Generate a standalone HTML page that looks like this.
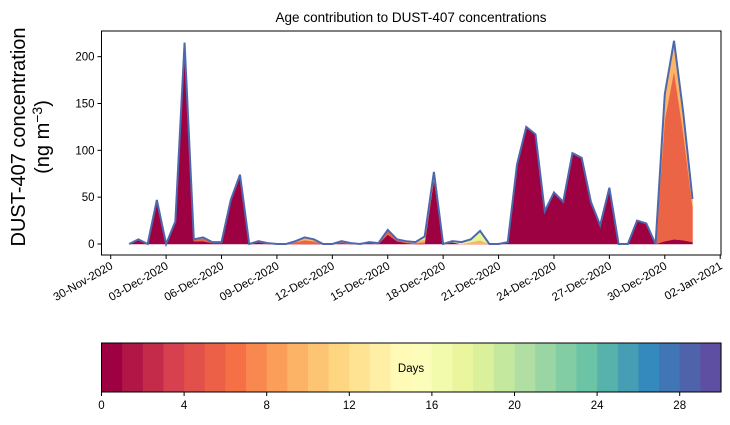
<!DOCTYPE html>
<html><head><meta charset="utf-8"><style>
body{margin:0;background:#fff;}
svg{display:block;font-family:"Liberation Sans","DejaVu Sans",sans-serif;}
</style></head><body>
<svg id="chart" width="730" height="425" viewBox="0 0 730 425">
<g id="plot"></g>
<g id="axes"></g>
<g id="cbar"></g>
</svg>
<script>
// data: 12-hourly from 01-Dec-2020 00:00
const startDay = 1; // days after 30-Nov-2020
const fresh = [0,4,0,45,0,23,212,3,3,1,1,46,73,0,2,0,0,0,0,0,0,0,0,1,0,0,1,0,10,3,1,0,0,70,0,2,0,0,0,0,0,2,85,125,117,35,55,45,97,92,45,20,60,0,0,25,22,0,3,5,4,2];
const aged4 = [0,1,0,2,0,1,3,2,3,1,1,1,1,0,1,1,0,0,2,4,3,0,0,2,1,0,1,1,5,2,1,1,2,0,0,0,0,0,0,0,0,0,0,0,0,0,0,0,0,0,0,0,0,0,0,0,0,0,130,180,115,38];
const aged10 = [0,0,0,0,0,0,0,0,1,0,0,0,0,0,0,0,0,0,1,3,2,0,0,0,0,0,0,0,0,0,1,1,3,5,0,0,0,2,4,0,0,0,0,0,0,0,0,0,0,0,0,0,0,0,0,0,0,0,27,32,21,8];
const aged17 = [0,0,0,0,0,0,0,0,0,0,0,0,0,0,0,0,0,0,0,0,0,0,0,0,0,0,0,0,0,0,0,0,3,2,0,1,2,3,10,0,0,0,0,0,0,0,0,0,0,0,0,0,0,0,0,0,0,0,0,0,0,0];
const yTicks = [0,50,100,150,200];
const xTickLabels = ["30-Nov-2020","03-Dec-2020","06-Dec-2020","09-Dec-2020","12-Dec-2020","15-Dec-2020","18-Dec-2020","21-Dec-2020","24-Dec-2020","27-Dec-2020","30-Dec-2020","02-Jan-2021"];
const xTickDays = [0,3,6,9,12,15,18,21,24,27,30,33];
const cbarTicks = [0,4,8,12,16,20,24,28];

const NS="http://www.w3.org/2000/svg";
const L=101.5,R=721,T=31,B=255;
const X0=110.7,PX_DAY=(720.2-110.7)/33;
const xs=d=>X0+d*PX_DAY;
const ys=v=>244-v*0.9367;
function mk(tag,attrs,parent){const e=document.createElementNS(NS,tag);for(const k in attrs)e.setAttribute(k,attrs[k]);parent.appendChild(e);return e;}
const plot=document.getElementById('plot'),axes=document.getElementById('axes'),cbar=document.getElementById('cbar');

const layers=[{d:fresh,c:'#9e0142',n:'area-age-0-1-days'},{d:aged4,c:'#ec6446',n:'area-age-4-days'},{d:aged10,c:'#fdb466',n:'area-age-10-days'},{d:aged17,c:'#e6f598',n:'area-age-17-days'}];
const n=fresh.length;
let base=new Array(n).fill(0);
const xd=i=>startDay+i*0.5;
layers.forEach(ly=>{
  const top=base.map((b,i)=>b+ly.d[i]);
  let p=[];
  for(let i=0;i<n;i++)p.push(xs(xd(i)).toFixed(2)+','+ys(top[i]).toFixed(2));
  for(let i=n-1;i>=0;i--)p.push(xs(xd(i)).toFixed(2)+','+ys(base[i]).toFixed(2));
  const e=mk('polygon',{points:p.join(' '),fill:ly.c,stroke:ly.c,'stroke-width':0.5},plot);
  
  
  base=top;
});
{
  let p=[];for(let i=0;i<n;i++)p.push(xs(xd(i)).toFixed(2)+','+ys(base[i]).toFixed(2));
  const e=mk('polyline',{points:p.join(' '),fill:'none',stroke:'#4e68ad','stroke-width':2,'stroke-linejoin':'miter'},plot);
  
  
}
// frame
{const e=mk('rect',{x:L,y:T,width:R-L,height:B-T,fill:'none',stroke:'#000','stroke-width':1},axes);

}
yTicks.forEach(v=>{
  mk('line',{x1:L-4,x2:L,y1:ys(v),y2:ys(v),stroke:'#000'},axes);
  const t=mk('text',{x:L-7,y:ys(v)+4,'text-anchor':'end','font-size':11.5},axes);t.textContent=v;
  
  
});
xTickDays.forEach((d,k)=>{
  const x=xs(d);
  mk('line',{x1:x,x2:x,y1:B,y2:B+4,stroke:'#000'},axes);
  const t=mk('text',{x:x+3,y:B+13,'text-anchor':'end','font-size':11.5,transform:`rotate(-30 ${x+3} ${B+13})`},axes);t.textContent=xTickLabels[k];
  
  
});
{const t=mk('text',{x:411,y:22,'text-anchor':'middle','font-size':13.5},axes);t.textContent='Age contribution to DUST-407 concentrations';

}
{const g=mk('text',{x:0,y:0,'text-anchor':'middle','font-size':20,transform:'translate(25 137) rotate(-90)'},axes);g.textContent='DUST-407 concentration';


const g2=mk('text',{x:0,y:0,'text-anchor':'middle','font-size':20,transform:'translate(49 137) rotate(-90)'},axes);
g2.innerHTML='(ng m<tspan dy="-7" font-size="14">−3</tspan><tspan dy="7">)</tspan>';

}
// colorbar
const anchors=['#9e0142','#d53e4f','#f46d43','#fdae61','#fee08b','#ffffbf','#e6f598','#abdda4','#66c2a5','#3288bd','#5e4fa2'];
function hex(h){return [1,3,5].map(i=>parseInt(h.substr(i,2),16));}
function spectral(t){const s=t*10,i=Math.min(9,Math.floor(s)),f=s-i;const a=hex(anchors[i]),b=hex(anchors[i+1]);return 'rgb('+a.map((v,j)=>Math.round(v+(b[j]-v)*f)).join(',')+')';}
const CL=101.5,CR=721,CT=343,CB=392,NB=30;
for(let k=0;k<NB;k++){
  const w=(CR-CL)/NB;
  const e=mk('rect',{x:CL+k*w,y:CT,width:w+0.6,height:CB-CT,fill:spectral(k/(NB-1))},cbar);
  
  
}
mk('rect',{x:CL,y:CT,width:CR-CL,height:CB-CT,fill:'none',stroke:'#000'},cbar);
cbarTicks.forEach(v=>{
  const x=CL+v/30*(CR-CL);
  mk('line',{x1:x,x2:x,y1:CB,y2:CB+4,stroke:'#000'},cbar);
  const t=mk('text',{x:x,y:CB+17,'text-anchor':'middle','font-size':11.5},cbar);t.textContent=v;
  
  
});
{const t=mk('text',{x:411,y:372,'text-anchor':'middle','font-size':11.5},cbar);t.textContent='Days';

}
</script>
</body></html>
